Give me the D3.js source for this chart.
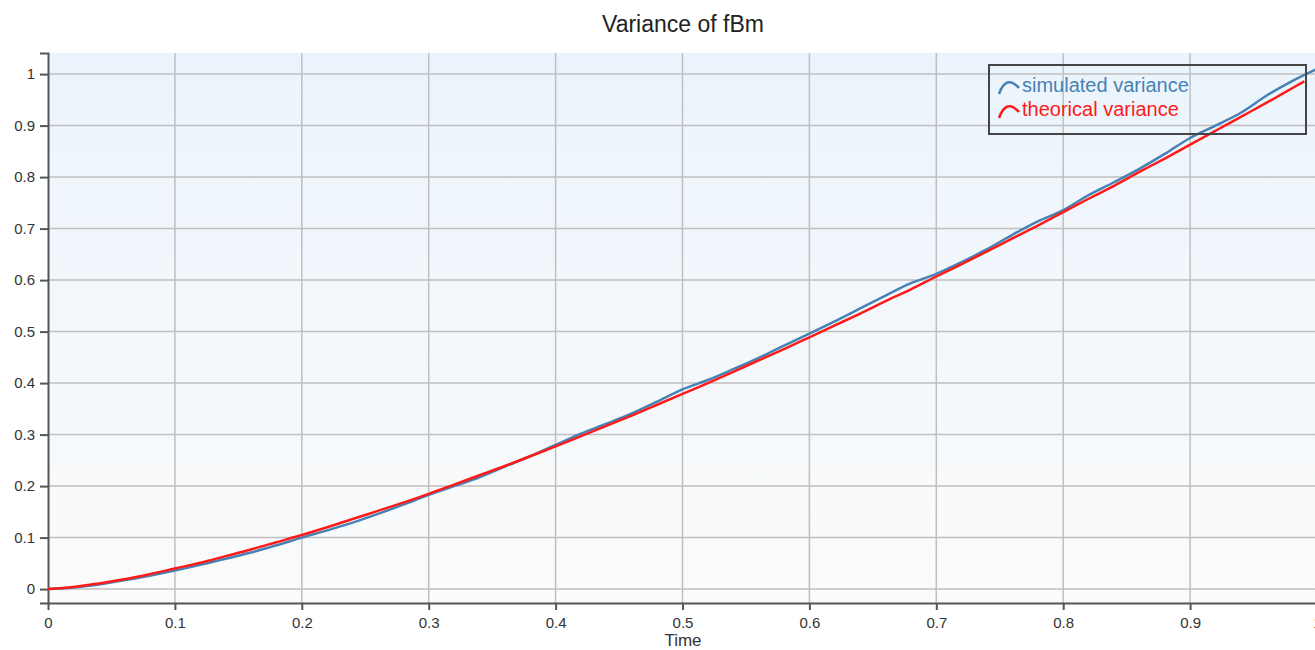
<!DOCTYPE html>
<html>
<head>
<meta charset="utf-8">
<script src="https://cdn.jsdelivr.net/npm/d3@7"></script>
<style>
    body { margin: 0; background: #fff; }
    svg { display: block; font-family: "Liberation Sans", Arial, sans-serif; }
    .axis path, .axis line { stroke: #555; stroke-width: 2; }
    .axis text { font-size: 15px; fill: #333; }
    .grid line { stroke: #bfbfbf; stroke-width: 1.5; }
</style>
</head>
<body>
<div id="chart"></div>
<script>
// time steps
var timeSteps = [0, 0.02, 0.04, 0.06, 0.08, 0.10, 0.12, 0.14, 0.16, 0.18,
    0.20, 0.22, 0.24, 0.26, 0.28, 0.30, 0.32, 0.34, 0.36, 0.38,
    0.40, 0.42, 0.44, 0.46, 0.48, 0.50, 0.52, 0.54, 0.56, 0.58,
    0.60, 0.62, 0.64, 0.66, 0.68, 0.70, 0.72, 0.74, 0.76, 0.78,
    0.80, 0.82, 0.84, 0.86, 0.88, 0.90, 0.92, 0.94, 0.96, 0.98, 1.00];

var simulatedVariance = [0, 0.003, 0.009, 0.017, 0.026, 0.036, 0.047, 0.059, 0.071, 0.085,
    0.100, 0.114, 0.129, 0.146, 0.164, 0.183, 0.200, 0.217, 0.238, 0.258,
    0.280, 0.302, 0.321, 0.341, 0.364, 0.388, 0.406, 0.427, 0.449, 0.473,
    0.496, 0.520, 0.545, 0.570, 0.594, 0.612, 0.635, 0.660, 0.688, 0.714,
    0.736, 0.765, 0.790, 0.816, 0.845, 0.876, 0.900, 0.925, 0.958, 0.986, 1.010];

var theoricalSteps = [0, 0.02, 0.04, 0.06, 0.08, 0.10, 0.12, 0.14, 0.16, 0.18,
    0.20, 0.22, 0.24, 0.26, 0.28, 0.30, 0.32, 0.34, 0.36, 0.38,
    0.40, 0.42, 0.44, 0.46, 0.48, 0.50, 0.52, 0.54, 0.56, 0.58,
    0.60, 0.62, 0.64, 0.66, 0.68, 0.70, 0.72, 0.74, 0.76, 0.78,
    0.80, 0.82, 0.84, 0.86, 0.88, 0.90, 0.92, 0.94, 0.96, 0.98, 0.99];

var theoricalVariance = [0, 0.004, 0.011, 0.019, 0.029, 0.040, 0.051, 0.064, 0.077, 0.091,
    0.105, 0.120, 0.136, 0.152, 0.168, 0.185, 0.203, 0.221, 0.239, 0.258,
    0.277, 0.297, 0.317, 0.337, 0.358, 0.379, 0.400, 0.422, 0.444, 0.466,
    0.489, 0.512, 0.535, 0.559, 0.582, 0.607, 0.631, 0.656, 0.681, 0.706,
    0.732, 0.758, 0.783, 0.810, 0.836, 0.863, 0.890, 0.917, 0.944, 0.972, 0.986];

var xTicks = [0, 0.1, 0.2, 0.3, 0.4, 0.5, 0.6, 0.7, 0.8, 0.9, 1];
var yTicks = [0, 0.1, 0.2, 0.3, 0.4, 0.5, 0.6, 0.7, 0.8, 0.9, 1];

var seriesNames = ["simulated variance", "theorical variance"];
var seriesColors = ["#4682b4", "#ff1a1a"];

var width = 1315, height = 650;
var margin = { top: 53, left: 48, bottom: 47 };

var svg = d3.select("#chart")
    .append("svg")
    .attr("width", width)
    .attr("height", height);

var x = d3.scaleLinear().domain([0, 1]).range([margin.left, 1317]);
var y = d3.scaleLinear().domain([-0.027, 1.041]).range([height - margin.bottom, margin.top]);

// light blue to white background
var grad = svg.append("defs").append("linearGradient")
    .attr("id", "bg")
    .attr("x1", 0).attr("y1", 0).attr("x2", 0).attr("y2", 1);
grad.append("stop").attr("offset", "0%").attr("stop-color", "#ebf4fc");
grad.append("stop").attr("offset", "100%").attr("stop-color", "#fbfbfb");

svg.append("rect")
    .attr("x", x(0))
    .attr("y", y(1.041))
    .attr("width", width - x(0))
    .attr("height", y(-0.027) - y(1.041))
    .attr("fill", "url(#bg)");

// grid
var grid = svg.append("g").attr("class", "grid");
grid.selectAll("line.v")
    .data(xTicks.slice(1))
    .enter().append("line")
    .attr("class", "v")
    .attr("x1", function (d) { return x(d); })
    .attr("x2", function (d) { return x(d); })
    .attr("y1", y(1.041))
    .attr("y2", y(-0.027));
grid.selectAll("line.h")
    .data(yTicks)
    .enter().append("line")
    .attr("class", "h")
    .attr("x1", x(0))
    .attr("x2", width)
    .attr("y1", function (d) { return y(d); })
    .attr("y2", function (d) { return y(d); });

// axes
svg.append("g")
    .attr("class", "axis")
    .attr("transform", `translate(0,${y(-0.027)})`)
    .call(d3.axisBottom(x).tickValues(xTicks).tickSize(7).tickSizeOuter(0).tickFormat(d3.format("")))
    .call(function (g) { g.selectAll("text").attr("dy", "1.0em"); });

svg.append("g")
    .attr("class", "axis")
    .attr("transform", `translate(${x(0)},0)`)
    .call(d3.axisLeft(y).tickValues(yTicks).tickSize(8).tickSizeOuter(8).tickFormat(d3.format("")))
    .call(function (g) { g.selectAll("text").attr("x", -13); });

// lines
var line = d3.line()
    .x(function (d) { return x(d[0]); })
    .y(function (d) { return y(d[1]); })
    .curve(d3.curveMonotoneX);

var simData = timeSteps.map(function (t, i) { return [t, simulatedVariance[i]]; });
var theoData = theoricalSteps.map(function (t, i) { return [t, theoricalVariance[i]]; });

svg.append("path")
    .datum(simData)
    .attr("d", line)
    .attr("fill", "none")
    .attr("stroke", seriesColors[0])
    .attr("stroke-width", 2.5);

svg.append("path")
    .datum(theoData)
    .attr("d", line)
    .attr("fill", "none")
    .attr("stroke", seriesColors[1])
    .attr("stroke-width", 2.5);

// title and axis label
svg.append("text")
    .attr("x", 683)
    .attr("y", 32)
    .attr("text-anchor", "middle")
    .style("font-size", "23px")
    .style("fill", "#222")
    .text("Variance of fBm");

svg.append("text")
    .attr("x", 683)
    .attr("y", 646)
    .attr("text-anchor", "middle")
    .style("font-size", "17px")
    .style("fill", "#333")
    .text("Time");

// legend
var legend = svg.append("g").attr("transform", "translate(989,65)");
legend.append("rect")
    .attr("width", 317)
    .attr("height", 69)
    .attr("fill", "none")
    .attr("stroke", "#444")
    .attr("stroke-width", 2);

var items = legend.selectAll("g.item")
    .data(seriesNames)
    .enter().append("g")
    .attr("class", "item")
    .attr("transform", function (d, i) { return `translate(0,${27 + i * 24})`; });

items.append("path")
    .attr("d", "M10,2 Q17,-18 30,-4")
    .attr("fill", "none")
    .attr("stroke-width", 2.5)
    .attr("stroke", function (d, i) { return seriesColors[i]; });

items.append("text")
    .attr("x", 33)
    .attr("y", 0)
    .style("font-size", "20px")
    .style("fill", function (d, i) { return seriesColors[i]; })
    .text(function (d) { return d; });
</script>
</body>
</html>
